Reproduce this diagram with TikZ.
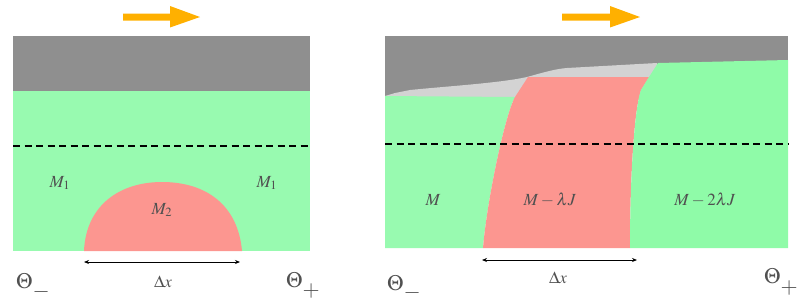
\documentclass[tikz,border=0pt]{standalone}
\usepackage{mathptmx}
\usetikzlibrary{arrows.meta}
\definecolor{dgray}{HTML}{8F8F8F}
\definecolor{lgray}{HTML}{D3D3D3}
\definecolor{pgreen}{HTML}{98FAB0}
\definecolor{pgreenB}{HTML}{8FFBA8}
\definecolor{pred}{HTML}{FC9690}
\definecolor{porange}{HTML}{FFB000}
\definecolor{txt}{HTML}{505050}
\newcommand{\ThSub}[2]{$\Theta$\raisebox{-#2}{$#1$}}
\tikzset{
  lbl/.style={text=txt,font=\fontsize{17}{20}\selectfont,inner sep=0pt},
  thlbl/.style={text=txt,font=\fontsize{22}{26}\selectfont,inner sep=0pt,anchor=base west},
  dashln/.style={line width=2.6pt,dash pattern=on 7pt off 4.5pt},
  dimarrow/.style={{Stealth[length=5pt,width=4pt]}-{Stealth[length=5pt,width=4pt]},line width=0.8pt},
}
\begin{document}
\begin{tikzpicture}[x=1pt,y=-1pt]
\useasboundingbox (0,0) rectangle (805,301);
% ---------- left panel ----------
\fill[dgray] (13,36) rectangle (310,91);
\fill[pgreen] (13,91) rectangle (310,251);
\fill[pred] (84,251) .. controls (86,205) and (120,182) .. (162,182)
  .. controls (206,182) and (238,205) .. (242,251) -- cycle;
\coordinate (Ld1) at (13,146);
\coordinate (Ld2) at (310,146);
\draw[dashln] (Ld1) -- (Ld2);
\node[lbl] (m1a) at (60,183) {$M_1$};
\node[lbl] (m1b) at (267,183) {$M_1$};
\node[lbl] (m2) at (162,210) {$M_2$};
\coordinate (La) at (84,262);
\coordinate (Lb) at (240,262);
\draw[dimarrow] (La) -- (Lb);
\node[lbl] (dxl) at (163,282) {$\Delta x$};
\node[thlbl] (thml) at (16,288) {\ThSub{-}{9pt}};
\node[thlbl] (thpl) at (286,287) {\ThSub{+}{9pt}};
\fill[porange] (123,13.5) -- (170,13.5) -- (170,6) -- (200,17) -- (170,27.5) -- (170,20.5) -- (123,20.5) -- cycle;
% ---------- right panel ----------
\fill[dgray] (385,36) rectangle (788,100);
\fill[lgray] (385,96) -- (395,93) -- (410,90) .. controls (450,86) and (500,83) .. (527,77)
  .. controls (545,72) and (555,69) .. (567,68) -- (657,63) -- (660,100) -- (385,100) -- cycle;
\fill[pgreen] (385,96) -- (515,97) .. controls (505,115) and (487,200) .. (483,248) -- (385,248) -- cycle;
\fill[pred] (528,77) -- (649,77) -- (641,90) .. controls (634,110) and (630,180) .. (630,248)
  -- (483,248) .. controls (487,200) and (505,115) .. (515,97) -- cycle;
\fill[pgreenB] (658,63) -- (788,60) -- (788,248) -- (630,248) .. controls (630,180) and (634,110) .. (641,90) -- (649,77) -- cycle;
\coordinate (Rd1) at (385,144);
\coordinate (Rd2) at (788,144);
\draw[dashln] (Rd1) -- (Rd2);
\node[lbl] (mr1) at (433,200) {$M$};
\node[lbl] (mr2) at (550,200) {$M-\lambda J$};
\node[lbl] (mr3) at (705,200) {$M-2\lambda J$};
\coordinate (Ra) at (482,260);
\coordinate (Rb) at (637,260);
\draw[dimarrow] (Ra) -- (Rb);
\node[lbl] (dxr) at (558,278) {$\Delta x$};
\node[thlbl] (thmr) at (387,290) {\ThSub{-}{8pt}};
\node[thlbl] (thpr) at (764,283) {\ThSub{+}{10pt}};
\fill[porange] (562,13.5) -- (610,13.5) -- (610,6) -- (640,17) -- (610,27.5) -- (610,20.5) -- (562,20.5) -- cycle;
\end{tikzpicture}
\end{document}
